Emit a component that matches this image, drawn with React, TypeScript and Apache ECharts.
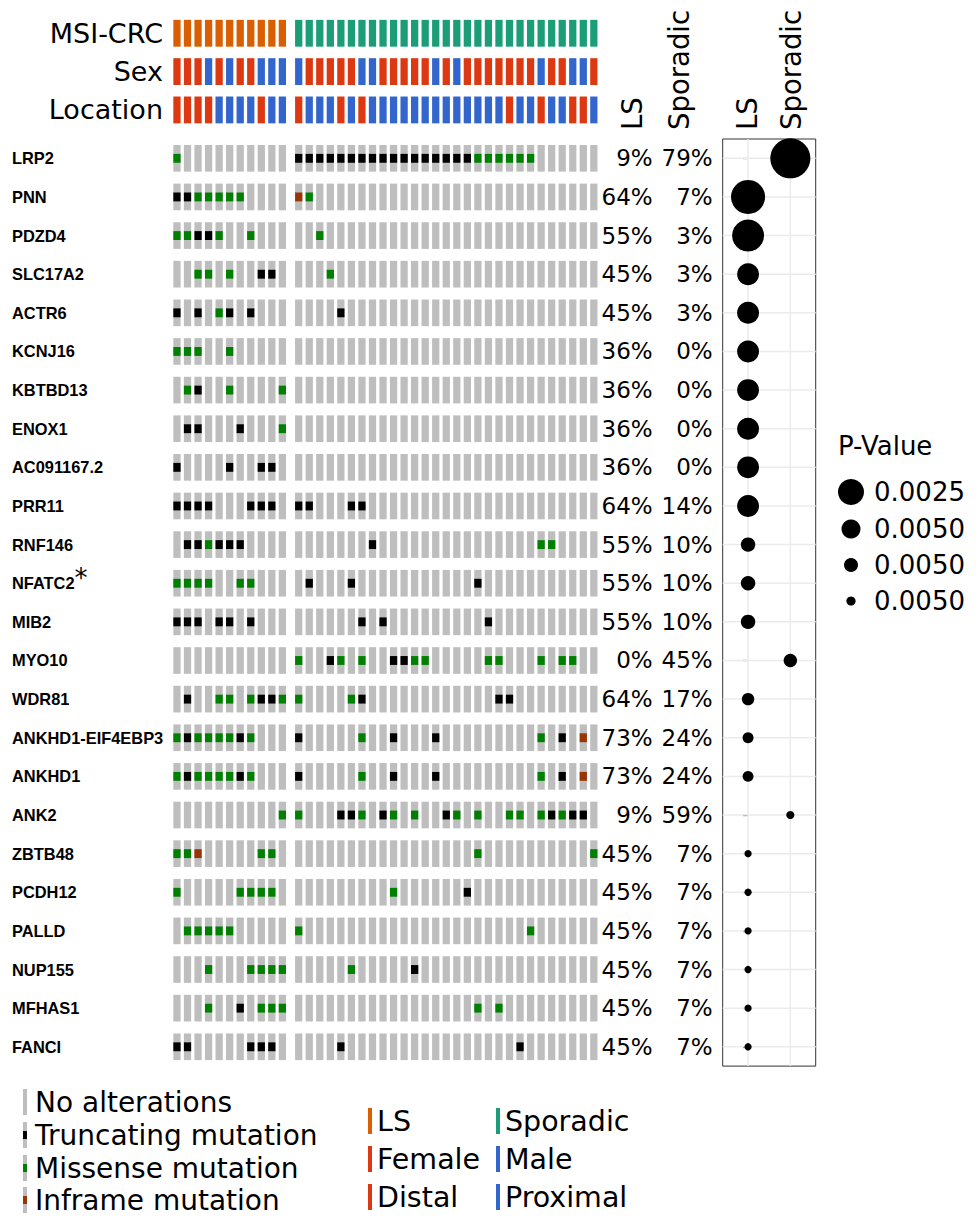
import React, { useEffect, useRef } from "react";
import * as echarts from "echarts";

// ---------------- data ----------------
const genes = [
  "LRP2", "PNN", "PDZD4", "SLC17A2", "ACTR6", "KCNJ16", "KBTBD13", "ENOX1",
  "AC091167.2", "PRR11", "RNF146", "NFATC2", "MIB2", "MYO10", "WDR81",
  "ANKHD1-EIF4EBP3", "ANKHD1", "ANK2", "ZBTB48", "PCDH12", "PALLD", "NUP155",
  "MFHAS1", "FANCI",
];
const starredGenes = ["NFATC2"];
const annotationRows = ["MSI-CRC", "Sex", "Location"];
const groups = ["LS", "Sporadic"];
const LS_N = 11;
const SP_N = 29;

const lsSex = ["F", "F", "F", "M", "F", "M", "F", "F", "M", "M", "M"];
const spSex = ["M", "F", "F", "F", "F", "F", "M", "M", "F", "F", "F", "F", "F", "M", "F",
  "M", "F", "F", "F", "F", "F", "F", "F", "M", "F", "F", "M", "M", "F"];
const lsLocation = ["D", "D", "D", "D", "P", "P", "P", "P", "D", "P", "P"];
const spLocation = ["D", "P", "P", "P", "D", "P", "D", "P", "P", "P", "P", "P", "P", "P", "P",
  "P", "P", "P", "P", "P", "D", "P", "P", "D", "P", "P", "D", "D", "P"];

// mutated sample indices per gene (same order as genes)
const lsTruncating = [
  [], [0, 1], [2, 3], [8, 9], [0, 2, 5, 7], [], [2], [1, 2, 6], [0, 5, 8, 9],
  [0, 1, 2, 3, 7, 8, 9], [1, 2, 4, 5, 6], [], [0, 1, 2, 4, 5, 7], [], [1, 8, 9],
  [1, 6], [1, 6], [], [], [], [], [], [6], [0, 1, 7, 8, 9],
];
const lsMissense = [
  [0], [2, 3, 4, 5, 6], [0, 1, 4, 7], [2, 3, 5], [4], [0, 1, 2, 5], [1, 5, 10], [10],
  [], [], [3], [0, 1, 2, 3, 6, 7], [], [], [4, 5, 7, 10], [0, 2, 3, 4, 5, 7],
  [0, 2, 3, 4, 5, 7], [10], [0, 1, 8, 9], [0, 6, 7, 8, 9], [1, 2, 3, 4, 5],
  [3, 7, 8, 9, 10], [3, 8, 9, 10], [],
];
const lsInframe = [
  [], [], [], [], [], [], [], [], [], [], [], [], [], [], [], [], [], [], [2], [], [], [], [], [],
];
const spTruncating = [
  [0, 1, 2, 3, 4, 5, 6, 7, 8, 9, 10, 11, 12, 13, 14, 15, 16], [], [], [], [4], [], [], [], [],
  [0, 1, 5, 6], [7], [1, 5, 17], [6, 8, 18], [3, 9, 10], [6, 19, 20], [0, 9, 13, 25],
  [0, 9, 13, 25], [4, 5, 8, 14, 24, 26, 27], [], [16], [], [11], [], [4, 21],
];
const spMissense = [
  [17, 18, 19, 20, 21, 22], [1], [2], [3], [], [], [], [], [], [], [23, 24], [], [],
  [0, 4, 6, 11, 12, 18, 19, 23, 25, 26], [0, 5], [6, 23], [6, 23],
  [0, 6, 9, 11, 15, 17, 20, 21, 23, 25], [17, 28], [9], [0, 22], [5], [17, 19], [],
];
const spInframe = [
  [], [0], [], [], [], [], [], [], [], [], [], [], [], [], [], [27], [27], [], [], [], [], [], [], [],
];

// estimated p-values of the group comparison (null = no dot)
const pValueLS = [
  null, 3.5e-5, 5.4e-5, 4.4e-4, 4.4e-4, 4.4e-4, 4.4e-4, 4.4e-4, 4.4e-4, 4.4e-4,
  2.1e-3, 2.1e-3, 2.1e-3, null, 3.2e-3, 4.4e-3, 4.4e-3, null,
  9.5e-3, 9.5e-3, 9.5e-3, 9.5e-3, 9.5e-3, 9.5e-3,
];
const pValueSp = [
  1.0e-5, null, null, null, null, null, null, null, null, null, null, null, null,
  2.6e-3, null, null, null, 7.9e-3, null, null, null, null, null, null,
];
const pLegendLabels = ["0.0025", "0.0050", "0.0050", "0.0050"];
const alterationLegend = ["No alterations", "Truncating mutation", "Missense mutation", "Inframe mutation"];
const annotationLegend = [["LS", "Sporadic"], ["Female", "Male"], ["Distal", "Proximal"]];

// ---------------- styles ----------------
const FONT = "DejaVu Sans";
const SP_OFFSET = 11.55;
const annColors: Record<string, string> = {
  LS: "#D95F02", Sporadic: "#1B9E77", F: "#DC3912", M: "#3366CC", D: "#DC3912", P: "#3366CC",
};
const mutColors = ["#BEBEBE", "#000000", "#008000", "#993404"];

function txtStyle(text: string, size: number) {
  return {
    text, fontSize: size, fontFamily: FONT, fill: "#000",
    align: "left", verticalAlign: "middle", textAlign: "left", textVerticalAlign: "middle",
  };
}

function buildOption() {
  // oncoprint cells
  const matrix: number[][] = [];
  genes.forEach((_, g) => {
    for (let i = 0; i < LS_N; i++) {
      const t = lsTruncating[g].includes(i) ? 1 : lsMissense[g].includes(i) ? 2 : lsInframe[g].includes(i) ? 3 : 0;
      matrix.push([i, g, t]);
    }
    for (let j = 0; j < SP_N; j++) {
      const t = spTruncating[g].includes(j) ? 1 : spMissense[g].includes(j) ? 2 : spInframe[g].includes(j) ? 3 : 0;
      matrix.push([SP_OFFSET + j, g, t]);
    }
  });
  const lsPct = genes.map((_, g) =>
    Math.round(((lsTruncating[g].length + lsMissense[g].length + lsInframe[g].length) / LS_N) * 100));
  const spPct = genes.map((_, g) =>
    Math.round(((spTruncating[g].length + spMissense[g].length + spInframe[g].length) / SP_N) * 100));

  // annotation cells
  const ann: any[] = [];
  for (let i = 0; i < LS_N; i++) {
    ann.push([i, 0, "LS"], [i, 1, lsSex[i]], [i, 2, lsLocation[i]]);
  }
  for (let j = 0; j < SP_N; j++) {
    ann.push([SP_OFFSET + j, 0, "Sporadic"], [SP_OFFSET + j, 1, spSex[j]], [SP_OFFSET + j, 2, spLocation[j]]);
  }

  const dots: number[][] = [];
  genes.forEach((_, g) => {
    if (pValueLS[g] != null) dots.push([0, g, pValueLS[g] as number]);
    if (pValueSp[g] != null) dots.push([1, g, pValueSp[g] as number]);
  });
  const gridLines: number[][] = [];
  genes.forEach((_, g) => gridLines.push([0, g, 0]));
  groups.forEach((_, i) => gridLines.push([i, 0, 1]));

  const xMin = -0.5;
  const xMax = SP_OFFSET + SP_N - 1 + 0.5;

  const graphics: any[] = [];
  const vtext = (txt: string, x: number) => ({
    type: "text", x, y: 130, rotation: Math.PI / 2, style: txtStyle(txt, 27.5),
  });
  graphics.push(vtext("LS", 632), vtext("Sporadic", 679), vtext("LS", 747), vtext("Sporadic", 791));

  // P-value legend
  graphics.push({ type: "text", x: 838, y: 446, style: txtStyle("P-Value", 26) });
  const legR = [13, 9.5, 7, 4.6];
  const legY = [492, 529, 565, 601];
  pLegendLabels.forEach((lab, k) => {
    graphics.push({ type: "circle", shape: { cx: 851, cy: legY[k], r: legR[k] }, style: { fill: "#000" } });
    graphics.push({ type: "text", x: 874, y: legY[k], style: txtStyle(lab, 26) });
  });

  // alteration legend
  const altY = [1102, 1135, 1168, 1200];
  alterationLegend.forEach((lab, k) => {
    graphics.push({ type: "rect", shape: { x: 23, y: altY[k] - 13, width: 4, height: 26 }, style: { fill: mutColors[0] } });
    if (k > 0) graphics.push({ type: "rect", shape: { x: 23, y: altY[k] - 4, width: 4, height: 8 }, style: { fill: mutColors[k] } });
    graphics.push({ type: "text", x: 35, y: altY[k], style: txtStyle(lab, 28) });
  });
  const annLegY = [1121, 1159, 1197];
  const annLegColors = [["LS", "Sporadic"], ["F", "M"], ["D", "P"]];
  annotationLegend.forEach((pair, r) => {
    pair.forEach((lab, c) => {
      const x0 = c === 0 ? 368 : 496;
      graphics.push({ type: "rect", shape: { x: x0, y: annLegY[r] - 13, width: 4, height: 26 }, style: { fill: annColors[annLegColors[r][c]] } });
      graphics.push({ type: "text", x: x0 + 9, y: annLegY[r], style: txtStyle(lab, 28.5) });
    });
  });

  return {
    animation: false,
    backgroundColor: "#fff",
    textStyle: { fontFamily: FONT },
    grid: [
      { left: 171.7, top: 14.1, width: 427.4, height: 115 },
      { left: 171.7, top: 139, width: 427.4, height: 927.1 },
      { left: 722.7, top: 139, width: 93, height: 927.1, show: true, borderColor: "#333", borderWidth: 1, backgroundColor: "transparent" },
    ],
    xAxis: [
      { gridIndex: 0, type: "value", min: xMin, max: xMax, show: false },
      { gridIndex: 1, type: "value", min: xMin, max: xMax, show: false },
      { gridIndex: 2, type: "value", min: -0.6, max: 1.6, show: false },
    ],
    yAxis: [
      {
        gridIndex: 0, type: "category", data: annotationRows, inverse: true,
        axisLine: { show: false }, axisTick: { show: false }, splitLine: { show: false },
        axisLabel: { interval: 0, fontSize: 27, color: "#000", margin: 8.7, fontFamily: FONT },
      },
      {
        gridIndex: 1, type: "category", data: genes, inverse: true,
        axisLine: { show: false }, axisTick: { show: false }, splitLine: { show: false },
        axisLabel: {
          interval: 0, align: "left", margin: 159.7, fontFamily: "Liberation Sans", fontWeight: "bold",
          fontSize: 16.4, color: "#000",
          formatter: (v: string) => (starredGenes.includes(v) ? `${v}{s|*}` : v),
          rich: { s: { fontFamily: FONT, fontSize: 26, fontWeight: "normal", color: "#000", padding: [0, 0, 10, 0] } },
        },
      },
      {
        gridIndex: 2, type: "category", data: genes, inverse: true,
        axisLine: { show: false },
        axisTick: { show: true, interval: 0, alignWithLabel: true, length: 5, lineStyle: { color: "#333", width: 1.2 } },
        splitLine: { show: false },
        axisLabel: {
          interval: 0, margin: 10,
          formatter: (_v: string, i: number) => `{a|${lsPct[i]}%}{b|${spPct[i]}%}`,
          rich: {
            a: { width: 50, align: "right", fontSize: 23, fontFamily: FONT, color: "#000" },
            b: { width: 60, align: "right", fontSize: 23, fontFamily: FONT, color: "#000" },
          },
        },
      },
    ],
    series: [
      {
        type: "custom", xAxisIndex: 0, yAxisIndex: 0, data: ann,
        renderItem: (params: any, api: any) => {
          const [cx, cy] = api.coord([api.value(0), api.value(1)]);
          const sz = api.size([1, 1]);
          const w = sz[0] * 0.69, h = sz[1] * 0.7;
          const key = ann[params.dataIndex][2];
          return { type: "rect", shape: { x: cx - w / 2, y: cy - h / 2, width: w, height: h }, style: { fill: annColors[key] } };
        },
      },
      {
        type: "custom", xAxisIndex: 1, yAxisIndex: 1, data: matrix,
        renderItem: (_params: any, api: any) => {
          const [cx, cy] = api.coord([api.value(0), api.value(1)]);
          const sz = api.size([1, 1]);
          const w = sz[0] * 0.69, h = sz[1] * 0.69;
          const t = api.value(2);
          const children: any[] = [
            { type: "rect", shape: { x: cx - w / 2, y: cy - h / 2, width: w, height: h }, style: { fill: mutColors[0] } },
          ];
          if (t > 0) {
            children.push({ type: "rect", shape: { x: cx - w / 2, y: cy - h / 6, width: w, height: h / 3 }, style: { fill: mutColors[t] } });
          }
          return { type: "group", children };
        },
      },
      {
        type: "custom", xAxisIndex: 2, yAxisIndex: 2, data: gridLines, z: 1, silent: true,
        renderItem: (params: any, api: any) => {
          const cs = params.coordSys;
          const [px, py] = api.coord([api.value(0), api.value(1)]);
          const vertical = api.value(2) === 1;
          const shape = vertical
            ? { x1: px, y1: cs.y, x2: px, y2: cs.y + cs.height }
            : { x1: cs.x, y1: py, x2: cs.x + cs.width, y2: py };
          return { type: "line", shape, style: { stroke: "#EBEBEB", lineWidth: 1.5 } };
        },
      },
      {
        type: "scatter", xAxisIndex: 2, yAxisIndex: 2, data: dots, z: 5,
        symbol: "circle",
        symbolSize: (v: number[]) => 7 + 11 * (-Math.log10(v[2]) - 2),
        itemStyle: { color: "#000", opacity: 1 },
      },
    ],
    graphic: graphics,
  };
}

export default function App() {
  const ref = useRef<HTMLDivElement>(null);
  useEffect(() => {
    const chart = echarts.init(ref.current as HTMLDivElement, null, { renderer: "svg" });
    chart.setOption(buildOption() as any);
    return () => chart.dispose();
  }, []);
  return (
    <div
      ref={ref}
      style={{ position: "absolute", left: 0, top: 0, width: 976, height: 1217, background: "#fff" }}
    />
  );
}
